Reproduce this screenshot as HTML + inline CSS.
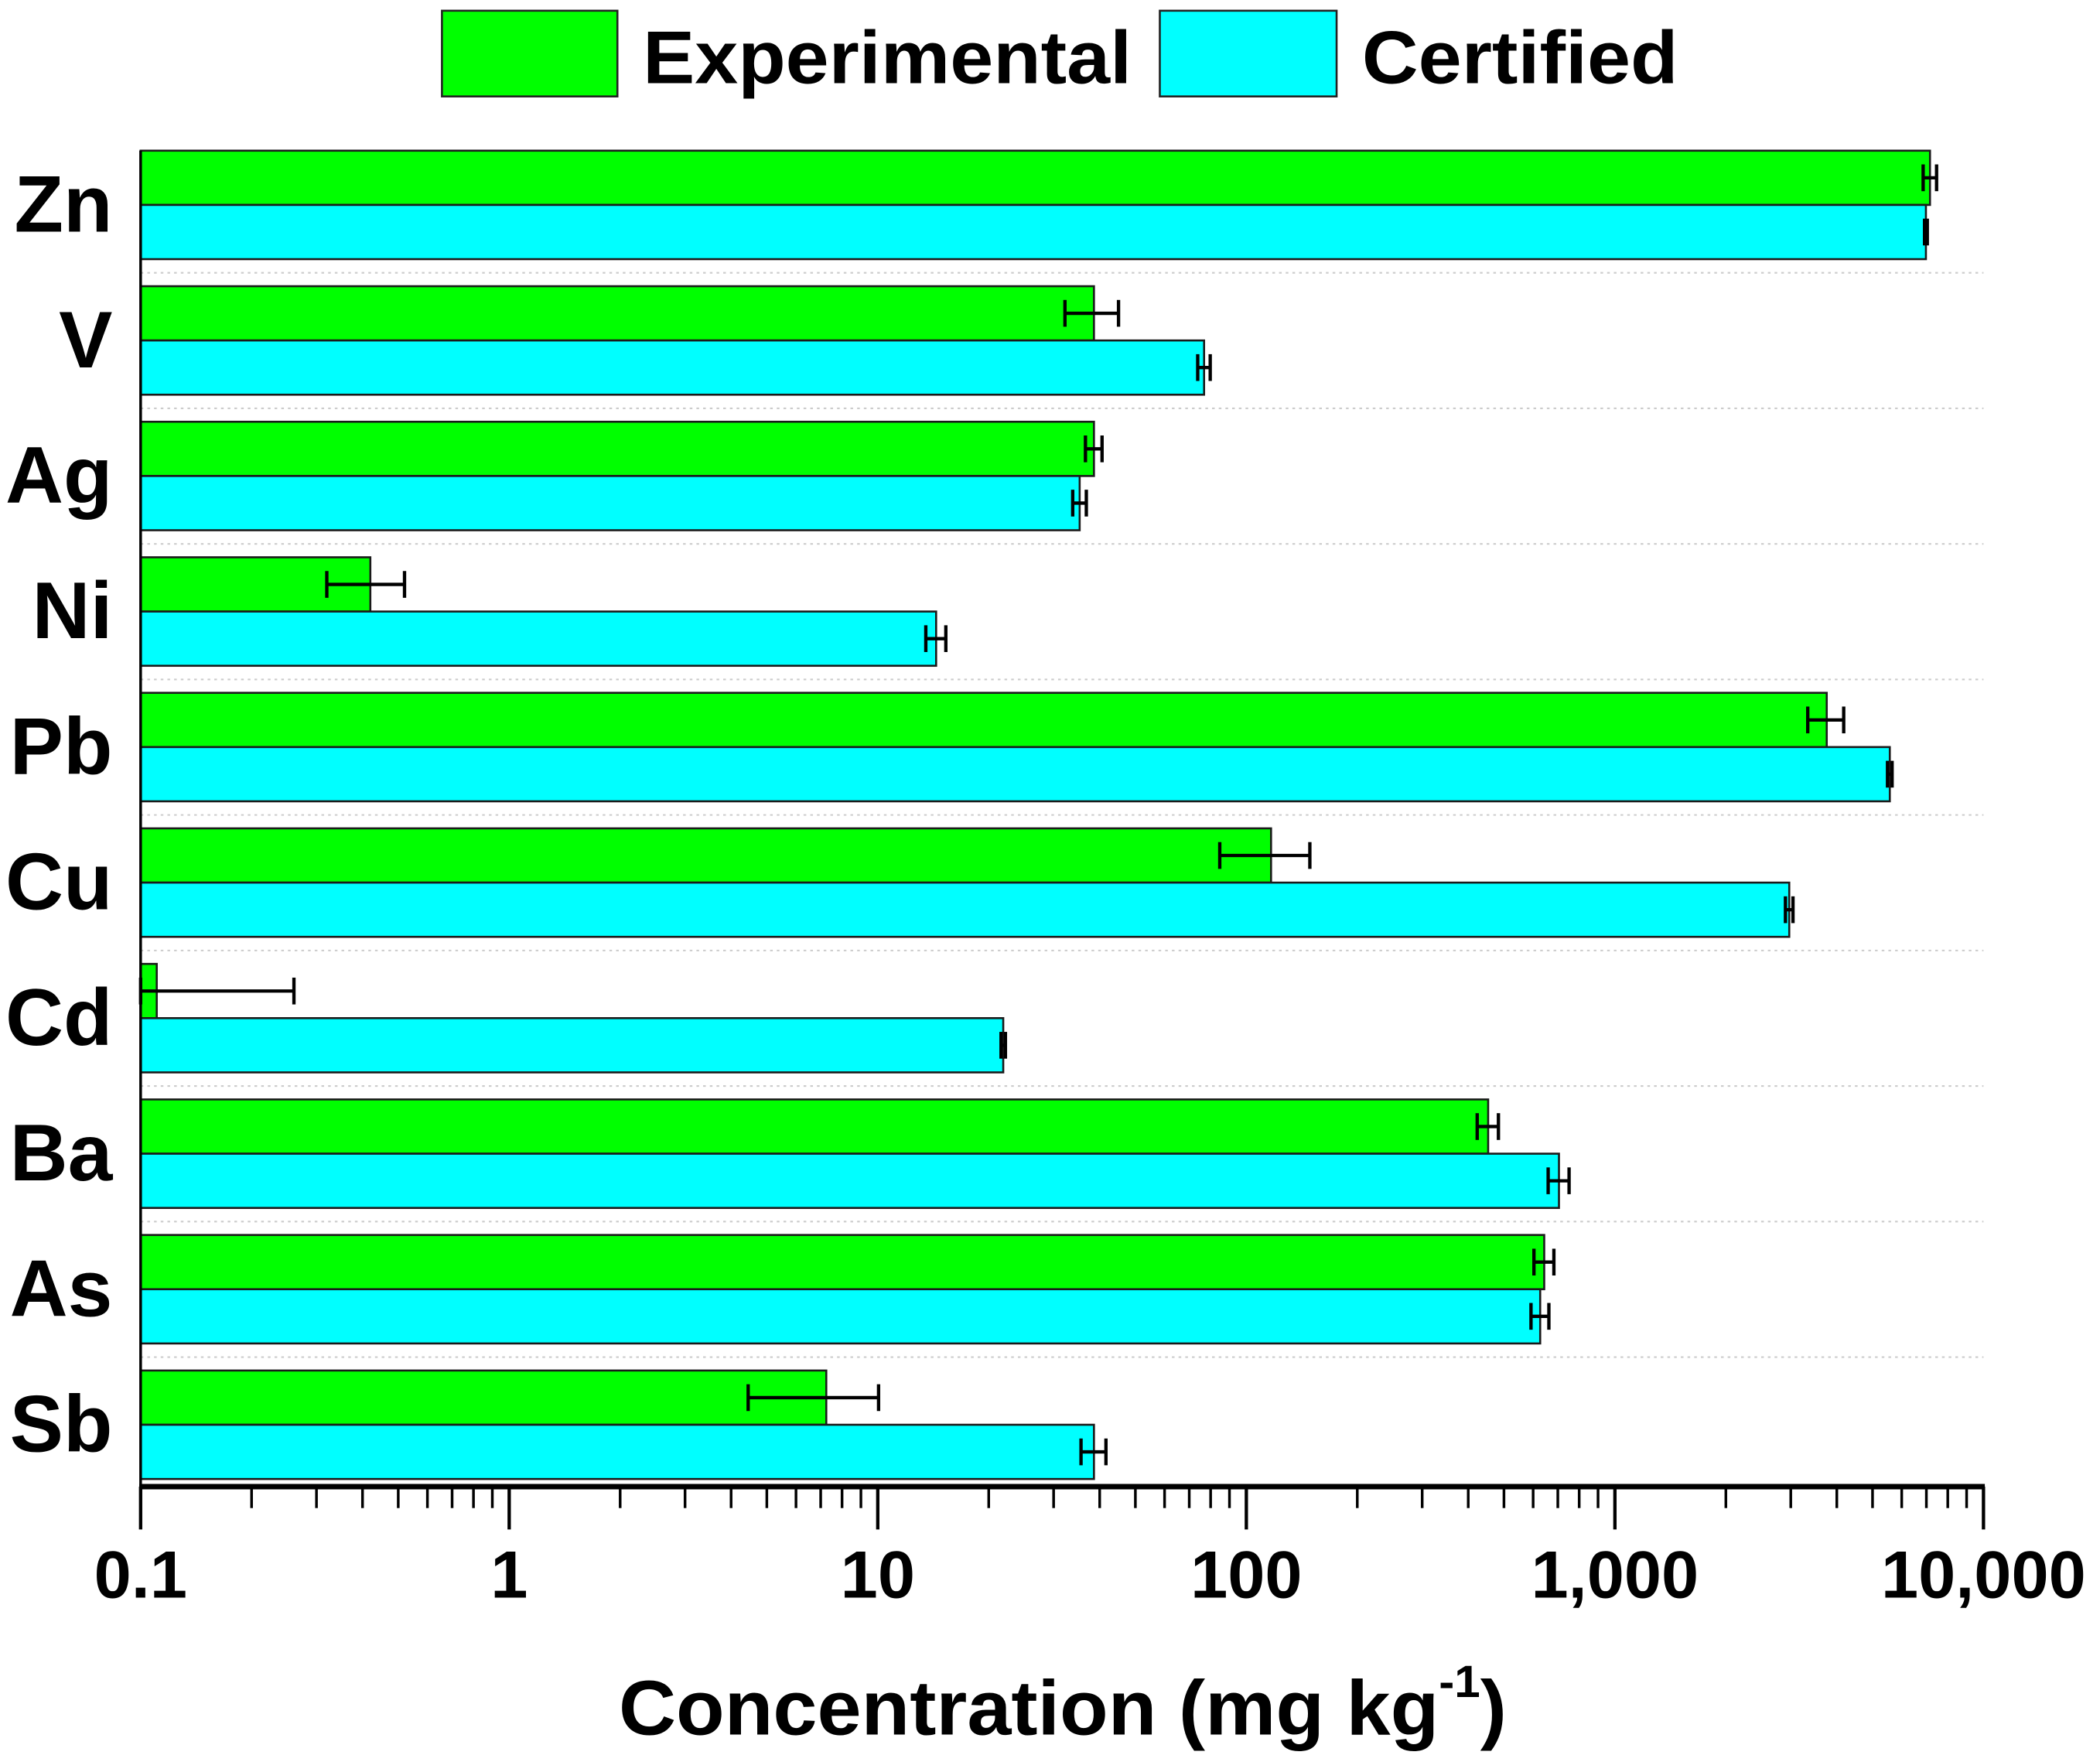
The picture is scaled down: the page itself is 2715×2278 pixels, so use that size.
<!DOCTYPE html>
<html><head><meta charset="utf-8"><style>
html,body{margin:0;padding:0;background:#fff;}
svg{display:block;}
text{font-family:"Liberation Sans",Arial,sans-serif;font-weight:bold;fill:#000;}
</style></head><body>
<svg id="chart" width="2715" height="2278" viewBox="0 0 1568 1315.6" preserveAspectRatio="none" xmlns="http://www.w3.org/2000/svg">
<g>
<rect x="330" y="8" width="131" height="64" fill="#00ff00" stroke="#222" stroke-width="1.5"/>
<text x="480" y="62" font-size="56" textLength="365" lengthAdjust="spacingAndGlyphs">Experimental</text>
<rect x="866" y="8" width="132" height="64" fill="#00ffff" stroke="#222" stroke-width="1.5"/>
<text x="1017" y="62" font-size="56" textLength="236" lengthAdjust="spacingAndGlyphs">Certified</text>
</g>
<g id="plot"></g>
<text x="462" y="1295" font-size="58" textLength="663" lengthAdjust="spacingAndGlyphs">Concentration (mg kg<tspan font-size="34" dy="-28">-1</tspan><tspan dy="28">)</tspan></text>
</svg>
<script>
const categories = ["Zn","V","Ag","Ni","Pb","Cu","Cd","Ba","As","Sb"];
const experimental = [7160, 38.6, 38.6, 0.42, 3756, 116.7, 0.1106, 453, 643, 7.25];
const experimentalErr = [300, 6.4, 2, 0.1, 420, 32, 0.15, 30, 40, 2.8];
const certified = [6980, 76.8, 35.3, 14.4, 5570, 2972, 21.9, 705, 627, 38.6];
const certifiedErr = [60, 3, 1.5, 0.9, 80, 70, 0.3, 46, 35, 3];
const tickValues = [0.1, 1, 10, 100, 1000, 10000];
const tickLabels = ["0.1","1","10","100","1,000","10,000"];

const NS = "http://www.w3.org/2000/svg";
const plot = document.getElementById('plot');
const X0 = 105, X1 = 1481, Ymin = 0.1, Ymax = 10000;
const TOP = 112.5, PITCH = 101.2, BARH = 40.5;
function xs(v){ v = Math.max(v, Ymin); return X0 + (X1 - X0) * (Math.log10(v) - Math.log10(Ymin)) / (Math.log10(Ymax) - Math.log10(Ymin)); }
function mk(tag, attrs){ const e = document.createElementNS(NS, tag); for (const k in attrs) e.setAttribute(k, attrs[k]); plot.appendChild(e); return e; }

for (let i = 1; i < categories.length; i++) {
  const y = TOP + i * PITCH - 10;
  const g = mk('line', {x1: X0, x2: 1481, y1: y, y2: y, stroke: '#ccc', 'stroke-width': 1.2, 'stroke-dasharray': '2,3'});
  
  
}

function errBar(v, e, yc, name){
  const a = xs(v - e), b = xs(v + e);
  const l = mk('line', {x1: a, x2: b, y1: yc, y2: yc, stroke: '#000', 'stroke-width': 2.5});
  
  
  [a, b].forEach(x => {
    const c = mk('line', {x1: x, x2: x, y1: yc - 10, y2: yc + 10, stroke: '#000', 'stroke-width': 2.5});
    
    
  });
}

categories.forEach((c, i) => {
  const y0 = TOP + i * PITCH;
  const r1 = mk('rect', {x: X0, y: y0, width: xs(experimental[i]) - X0, height: BARH, fill: '#00ff00', stroke: '#1a1a1a', 'stroke-width': 1.5});
  
  
  const r2 = mk('rect', {x: X0, y: y0 + BARH, width: xs(certified[i]) - X0, height: BARH, fill: '#00ffff', stroke: '#1a1a1a', 'stroke-width': 1.5});
  
  
  errBar(experimental[i], experimentalErr[i], y0 + BARH / 2, 'error-bar-experimental-' + c.toLowerCase());
  errBar(certified[i], certifiedErr[i], y0 + BARH * 1.5, 'error-bar-certified-' + c.toLowerCase());
  const t = mk('text', {x: 84, y: y0 + BARH + 20, 'font-size': 60, 'text-anchor': 'end'});
  t.textContent = c;
  
  
});

const AXY = 1110;
const ya = mk('line', {x1: X0, x2: X0, y1: TOP, y2: AXY, stroke: '#000', 'stroke-width': 2});


const xa = mk('line', {x1: X0 - 1, x2: X1 + 1, y1: AXY, y2: AXY, stroke: '#000', 'stroke-width': 4});


tickValues.forEach((v, i) => {
  const x = xs(v);
  const t = mk('line', {x1: x, x2: x, y1: AXY, y2: AXY + 32, stroke: '#000', 'stroke-width': 2.5});
  
  
  const lb = mk('text', {x: x, y: 1193, 'font-size': 50, 'text-anchor': 'middle'});
  lb.textContent = tickLabels[i];
  
  
  if (i < tickValues.length - 1) {
    for (let m = 2; m <= 9; m++) {
      const xm = xs(v * m);
      const mt = mk('line', {x1: xm, x2: xm, y1: AXY, y2: AXY + 16, stroke: '#000', 'stroke-width': 2});
      
      
    }
  }
});
</script>
</body></html>
